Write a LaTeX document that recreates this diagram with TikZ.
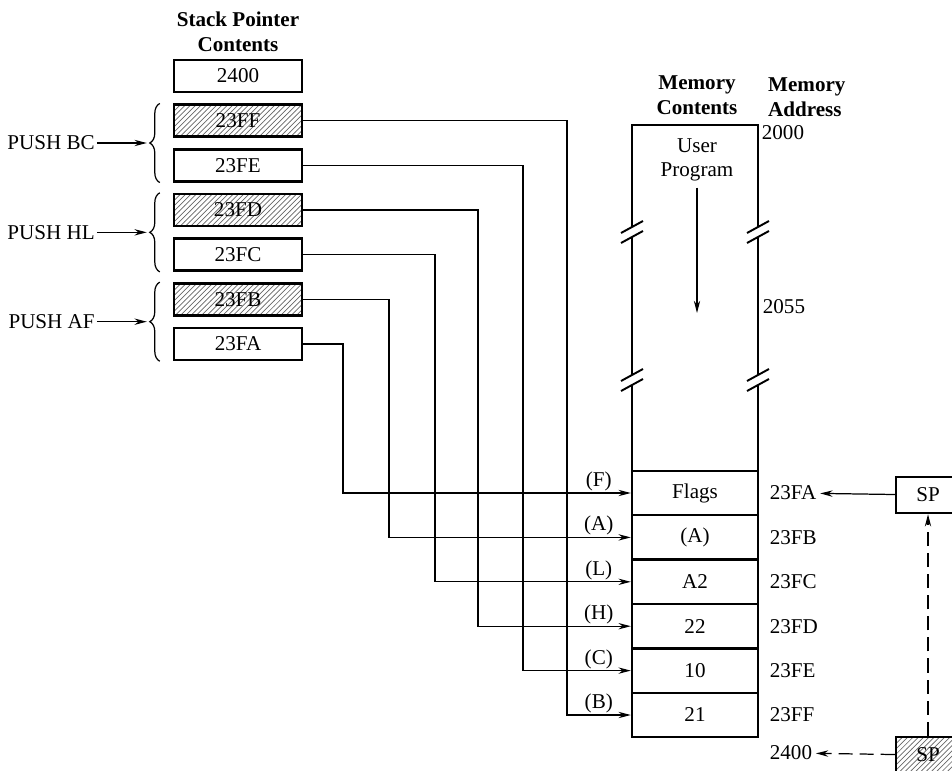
\documentclass[tikz,border=0pt]{standalone}
\usepackage{fontspec}
\setmainfont{Liberation Serif}
\usepackage{tikz}
\usetikzlibrary{calc, arrows.meta, patterns, decorations.pathreplacing}

\begin{document}
\begin{tikzpicture}[x=0.02cm, y=-0.02cm,
    font=\fontsize{12}{14}\selectfont,
    >={Stealth[length=7pt,width=3.6pt]},
    spbox/.style={draw, line width=1.4pt, minimum width=2.56cm, minimum height=0.64cm, inner sep=0pt},
    sphatch/.style={spbox, pattern=north east lines, pattern color=black!60},
    cell/.style={draw, line width=1.4pt, minimum width=2.52cm, minimum height=0.888cm, inner sep=0pt},
    wall/.style={line width=1.4pt},
    conn/.style={->, line width=0.7pt},
    brace/.style={decorate, decoration={brace, amplitude=0.2cm}, line width=0.7pt},
    head/.style={font=\fontsize{12}{14}\selectfont\bfseries, align=center}]
    \useasboundingbox (0,0) rectangle (952,770);
    \clip (0,0) rectangle (952,770);

    % stack pointer column
    \node[head] (spt) at (238,32) {Stack Pointer\\Contents};
    \foreach \t/\s [count=\i from 0] in {2400/spbox, 23FF/sphatch, 23FE/spbox, 23FD/sphatch, 23FC/spbox, 23FB/sphatch, 23FA/spbox}
        \node[\s] (sp\i) at (238,{76+44.67*\i}) {\t};
    \foreach \a/\b/\r in {1/2/BC, 3/4/HL, 5/6/AF} {
        \draw[brace] ([xshift=-0.26cm]sp\b.south west) -- ([xshift=-0.26cm]sp\a.north west);
        \coordinate (tip\r) at ($(sp\a.north west)!0.5!(sp\b.south west)+(-26,0)$);
        \node[anchor=east, inner sep=1pt] (push\r) at ($(tip\r)+(-50,0)$) {PUSH \r};
        \draw[conn] (push\r) -- (tip\r);
    }

    % memory column
    \node[head] (mct) at (697,95) {Memory\\Contents};
    \node[head, align=left, anchor=west] (mad) at (762,97) {Memory\\Address};
    \foreach \t [count=\i] in {Flags, {(A)}, A2, 22, 10, 21}
        \node[cell] (mem\i) at (695,{493+44.4*(\i-1)}) {\t};
    \draw[wall] (632,471) -- (632,385) (632,375) -- (632,237) (632,227) -- (632,125)
        -- (758,125) -- (758,227) (758,237) -- (758,375) (758,385) -- (758,471);
    \foreach \x in {632,758}
        \foreach \y in {232,380} {
            \draw[line width=1.1pt] (\x-11,\y+1) -- (\x+11,\y-11);
            \draw[line width=1.1pt] (\x-11,\y+11) -- (\x+11,\y-1);
        }
    \node[align=center] (prog) at (697,160) {User\\Program};
    \coordinate (progend) at (697,313);
    \draw[conn] (prog) -- (progend);
    \node[anchor=west, inner sep=2pt] (a2000) at (758,133) {2000};
    \node[anchor=west, inner sep=2pt] (a2055) at (759,307) {2055};
    \foreach \t [count=\i] in {23FA, 23FB, 23FC, 23FD, 23FE, 23FF}
        \node[anchor=west, inner sep=2pt] (addr\i) at (766,{493+44.4*(\i-1)}) {\t};
    \node[anchor=west, inner sep=2pt] (a2400) at (766,753) {2400};

    % pushes into memory
    \foreach \s/\m/\x/\r in {1/6/567/B, 2/5/523/C, 3/4/478/H, 4/3/435/L, 5/2/389/A, 6/1/343/F} {
        \coordinate (run\s) at (\x,0);
        \draw[conn] (sp\s.east) -- (sp\s.east -| run\s) |- (mem\m.west);
        \node[anchor=south, inner sep=1pt] (reg\r) at ([xshift=-0.64cm]mem\m.west) {(\r)};
    }

    % stack pointer register
    \node[draw, line width=1.4pt, minimum width=1.28cm, minimum height=0.72cm] (spreg) at (928,495) {SP};
    \node[draw, line width=1.4pt, minimum width=1.28cm, minimum height=0.72cm,
        pattern=north east lines, pattern color=black!60] (spold) at (928,755) {SP};
    \draw[conn] (spreg) -- (addr1);
    \draw[conn, dash pattern=on 8pt off 4pt] (spold) -- (a2400);
    \draw[conn, dash pattern=on 8pt off 4pt] (spold) -- (spreg);
\end{tikzpicture}
\end{document}
